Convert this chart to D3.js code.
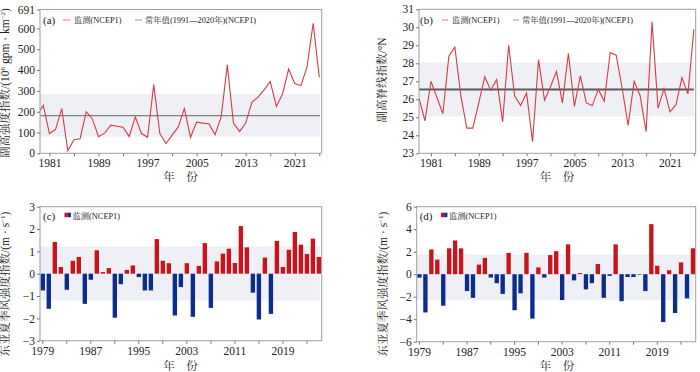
<!DOCTYPE html>
<html><head><meta charset="utf-8">
<script src="https://cdn.jsdelivr.net/npm/d3@7/dist/d3.min.js"></script>
<style>
body{margin:0;background:#fff;}
svg text{font-family:"Liberation Serif","Noto Serif CJK SC","Noto Sans CJK SC",serif;fill:#222;}
</style></head>
<body><svg id="c" width="700" height="372"></svg>
<script>
const years = d3.range(1979, 2026);
// (a) WPSH intensity index
const strength = [185,230,95,115,215,12,65,70,200,165,80,97,135,130,125,80,175,95,77,330,95,47,87,127,215,77,150,145,142,90,175,425,145,105,145,245,270,305,345,225,285,405,335,325,415,625,365];
const strengthNormal = 181, strengthBand = [80, 285];
const strengthTicks = [0,100,200,300,400,500,600,691];
// (b) WPSH ridge line index
const ridge = [26.05,24.8,27.0,26.1,25.2,28.4,28.9,26.2,24.4,24.4,25.8,27.25,26.5,27.1,24.75,29.0,26.2,25.65,26.35,23.65,28.2,25.95,26.7,27.55,25.8,28.55,25.6,27.3,25.8,25.65,26.55,25.9,28.6,28.45,26.6,24.55,27.0,26.2,24.2,30.3,25.5,26.6,25.3,25.7,27.2,26.3,29.9];
const ridgeNormal = 26.55, ridgeBand = [25.05, 28.05];
const ridgeTicks = [23,24,25,26,27,28,29,30,31];
// (c) EASM index 1
const easmC = [-0.75,-1.57,1.42,0.3,-0.72,0.58,0.75,-1.35,-0.27,1.05,0.07,0.25,-1.97,-0.47,0.17,0.37,-0.15,-0.75,-0.75,1.55,0.58,0.47,-1.87,-0.6,0.47,-1.93,0.35,1.37,-1.53,0.55,0.9,1.12,0.48,2.13,1.18,-0.85,-2.05,0.72,-1.8,1.47,0.3,1.07,1.87,1.3,0.88,1.57,0.75];
const easmCBand = [-1.2, 1.22];
const easmCTicks = [-3,-2,-1,0,1,2,3];
// (d) EASM index 2
const easmD = [-0.3,-3.4,2.2,1.3,-2.8,2.3,3.0,2.3,-1.5,-2.1,0.85,1.45,-0.3,-0.8,-1.75,1.9,-3.2,-1.7,1.9,-3.95,0.6,-0.3,1.7,2.05,-2.3,2.65,-0.55,0.1,-1.35,-0.8,0.9,-2.1,-0.15,2.65,-2.4,-0.25,-0.25,-0.05,-1.5,4.45,0.75,-4.25,0.35,-3.45,1.05,-2.15,2.3];
const easmDBand = [-2.3, 1.75];
const easmDTicks = [-6,-4,-2,0,2,4,6];
const lineTickYears = d3.range(1981, 2026, 4);
const barTickYears = d3.range(1979, 2026, 4);

const svg = d3.select("#c");
const RED_LINE = "#d63b47", RED = "#c8141d", BLUE = "#0c2c8e", BAND = "#eef0f5", FRAME = "#a0a0a0";
const fmt = d => d < 0 ? "\u2212" + Math.abs(d) : String(d);

function yAxis(g, y, ticks){
  g.call(d3.axisLeft(y).tickValues(ticks).tickSize(3).tickPadding(2).tickFormat(fmt));
  g.select(".domain").remove();
  g.selectAll(".tick line").attr("stroke","#777");
  g.selectAll(".tick text").style("font-size","11.5px").attr("fill","#222");
}
function xAxis(g, x, ticks, labelEvery, first, off){
  g.call(d3.axisBottom(x).tickValues(ticks).tickSize(3).tickPadding(3)
    .tickFormat(d => ((d - first) % labelEvery === 0) ? String(d) : ""));
  g.select(".domain").remove();
  g.selectAll(".tick line").attr("stroke","#777");
  g.selectAll(".tick text").style("font-size","11.5px").attr("fill","#222");
  if(off) g.selectAll(".tick").attr("transform", d => `translate(${x(d)+off},0)`);
}
function frame(L,R,T,B){
  svg.append("rect").attr("x",L).attr("y",T).attr("width",R-L).attr("height",B-T)
    .attr("fill","none").attr("stroke",FRAME).attr("stroke-width",1);
}
function yTitle(x, yc, parts){
  const t = svg.append("text").attr("transform",`translate(${x},${yc}) rotate(-90)`)
    .attr("text-anchor","middle").style("font-size","11.5px");
  parts.forEach(p => {
    const s = t.append("tspan").text(p[0]);
    if(p[1]) s.attr("baseline-shift","super").style("font-size","7px");
  });
}
function xTitle(x, y){
  svg.append("text").attr("x",x).attr("y",y).attr("text-anchor","middle")
    .style("font-size","11.5px").text("年\u3000份");
}

// ---------- (a) ----------
{
  const L=40,R=321.7,T=9.5,B=153.3;
  const x = d3.scaleLinear().domain([1979.46, 2025.39]).range([L,R]);
  const y = d3.scaleLinear().domain([0,691]).range([B,T]);
  svg.append("clipPath").attr("id","clipA").append("rect").attr("x",L).attr("y",T).attr("width",R-L).attr("height",B-T);
  svg.append("rect").attr("x",L).attr("width",x(2025.1)-L).attr("y",y(strengthBand[1])).attr("height",y(strengthBand[0])-y(strengthBand[1])).attr("fill",BAND);
  svg.append("line").attr("x1",L).attr("x2",x(2025.1)).attr("y1",y(strengthNormal)).attr("y2",y(strengthNormal)).attr("stroke","#808080").attr("stroke-width",1.3);
  svg.append("path").datum(strength).attr("clip-path","url(#clipA)")
    .attr("d", d3.line().x((d,i)=>x(years[i])).y(d=>y(d)))
    .attr("fill","none").attr("stroke",RED_LINE).attr("stroke-width",1.1);
  frame(L,R,T,B);
  yAxis(svg.append("g").attr("transform",`translate(${L},0)`), y, strengthTicks);
  xAxis(svg.append("g").attr("transform",`translate(0,${B})`), x, lineTickYears, 8, 1981);
  yTitle(9, 83, [["副高强度指数/(10"],["6",1],[" gpm · km"],["−2",1],[")"]]);
  xTitle(180.5, 181);
  svg.append("text").attr("x",43).attr("y",24).style("font-size","11px").text("(a)");
  svg.append("line").attr("x1",63).attr("x2",70).attr("y1",20).attr("y2",20).attr("stroke","#f2ad9a").attr("stroke-width",1.6);
  svg.append("text").attr("x",74).attr("y",23).style("font-size","8.3px").attr("fill","#444").text("监测(NCEP1)");
  svg.append("line").attr("x1",135).attr("x2",142).attr("y1",20).attr("y2",20).attr("stroke","#bdbdbd").attr("stroke-width",1.6);
  svg.append("text").attr("x",145).attr("y",23).style("font-size","8.3px").attr("fill","#444").text("常年值(1991—2020年)(NCEP1)");
}
// ---------- (b) ----------
{
  const L=419,R=695.7,T=9.3,B=153.3;
  const x = d3.scaleLinear().domain([1979, 2025.3]).range([L,R]);
  const y = d3.scaleLinear().domain([23,31]).range([B,T]);
  svg.append("rect").attr("x",L).attr("width",x(2025)-L).attr("y",y(ridgeBand[1])).attr("height",y(ridgeBand[0])-y(ridgeBand[1])).attr("fill",BAND);
  svg.append("line").attr("x1",L).attr("x2",x(2025)).attr("y1",y(ridgeNormal)).attr("y2",y(ridgeNormal)).attr("stroke","#5a5a5a").attr("stroke-width",2);
  svg.append("path").datum(ridge)
    .attr("d", d3.line().x((d,i)=>x(years[i])).y(d=>y(d)))
    .attr("fill","none").attr("stroke",RED_LINE).attr("stroke-width",1.1);
  frame(L,R,T,B);
  yAxis(svg.append("g").attr("transform",`translate(${L},0)`), y, ridgeTicks);
  xAxis(svg.append("g").attr("transform",`translate(0,${B})`), x, lineTickYears, 8, 1981);
  yTitle(386, 80, [["副高脊线指数/°N"]]);
  xTitle(557, 181);
  svg.append("text").attr("x",420).attr("y",24).style("font-size","11px").text("(b)");
  svg.append("line").attr("x1",442).attr("x2",448).attr("y1",20).attr("y2",20).attr("stroke","#f2ad9a").attr("stroke-width",1.6);
  svg.append("text").attr("x",452).attr("y",23).style("font-size","8.3px").attr("fill","#444").text("监测(NCEP1)");
  svg.append("line").attr("x1",513).attr("x2",519).attr("y1",20).attr("y2",20).attr("stroke","#bdbdbd").attr("stroke-width",1.6);
  svg.append("text").attr("x",522).attr("y",23).style("font-size","8.3px").attr("fill","#444").text("常年值(1991—2020年)(NCEP1)");
}
// ---------- bar panels ----------
function barPanel(L,R,T,B,vals,dom,ticks,band,label,lx,tx,ty){
  const x = d3.scaleBand().domain(years).range([L,R]).paddingInner(0.27).paddingOuter(0.1);
  const y = d3.scaleLinear().domain(dom).range([B,T]);
  svg.append("rect").attr("x",L).attr("width",R-2-L).attr("y",y(band[1])).attr("height",y(band[0])-y(band[1])).attr("fill",BAND);
  svg.selectAll(null).data(vals).enter().append("rect")
    .attr("x",(d,i)=>x(years[i])).attr("width",x.bandwidth())
    .attr("y",d=>y(Math.max(0,d))).attr("height",d=>Math.abs(y(d)-y(0)))
    .attr("fill",d=>d>=0?RED:BLUE);
  frame(L,R,T,B);
  yAxis(svg.append("g").attr("transform",`translate(${L},0)`), y, ticks);
  xAxis(svg.append("g").attr("transform",`translate(0,${B})`), x, barTickYears, 8, 1979, x.bandwidth()/2);
  yTitle(tx, 284, [["东亚夏季风强度指数/(m · s"],["−1",1],[")"]]);
  xTitle(ty, 370);
  svg.append("text").attr("x",L+3).attr("y",T+13.5).style("font-size","11px").text(label);
  svg.append("rect").attr("x",lx).attr("y",T+6).attr("width",3.2).attr("height",4.5).attr("fill",RED);
  svg.append("rect").attr("x",lx+3.2).attr("y",T+6).attr("width",3.2).attr("height",4.5).attr("fill",BLUE);
  svg.append("text").attr("x",lx+8).attr("y",T+12).style("font-size","8.3px").attr("fill","#444").text("监测(NCEP1)");
}
barPanel(40,321.7,206.7,340.7,easmC,[-3,3],easmCTicks,easmCBand,"(c)",64.5,9,180.5);
barPanel(416.7,695.7,206.7,341.7,easmD,[-6,6],easmDTicks,easmDBand,"(d)",441,387,557);
</script></body></html>
